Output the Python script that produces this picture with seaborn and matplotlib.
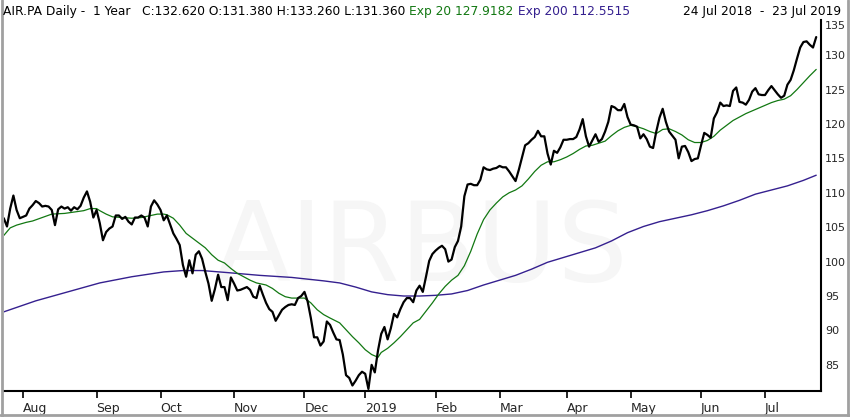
import numpy as np
import pandas as pd
import matplotlib
matplotlib.use('Agg')
import matplotlib.pyplot as plt
import seaborn as sns
from matplotlib.lines import Line2D
from matplotlib.transforms import ScaledTranslation

# Daily closes, one value per trading day (24 Jul 2018 - 23 Jul 2019)
close_jul = [106.3, 105.1, 107.7, 109.6, 107.5, 106.3]
close_aug = [106.5, 106.7, 107.7, 108.2, 108.8, 108.5, 108.0, 108.1, 108.0, 107.5,
             105.3, 107.6, 108.0, 107.7, 107.9, 107.4, 107.9, 107.6, 108.1, 109.3,
             110.2, 108.7, 106.4]
close_sep = [107.5, 105.6, 103.1, 104.3, 104.8, 105.1, 106.7, 106.7, 106.2, 106.5,
             105.8, 105.4, 106.4, 106.4, 106.7, 106.4, 105.1, 108.0, 108.9, 108.3]
close_oct = [107.5, 106.0, 106.7, 105.4, 104.1, 103.3, 102.4, 99.5, 97.8, 100.2,
             98.3, 101.0, 101.5, 100.4, 98.5, 96.8, 94.3, 96.0, 98.1, 96.3,
             96.3, 94.4, 97.7]
close_nov = [96.8, 95.8, 95.9, 96.1, 96.3, 95.9, 94.9, 94.7, 96.5, 95.2,
             94.0, 93.1, 92.7, 91.4, 92.2, 93.0, 93.4, 93.7, 93.8, 93.7,
             94.7, 95.0]
close_dec = [95.6, 94.2, 91.8, 89.0, 89.0, 87.8, 88.4, 91.3, 90.8, 89.7,
             88.7, 88.6, 86.5, 83.5, 83.1, 82.0, 82.7, 83.5, 84.0]
close_jan = [83.7, 81.5, 85.0, 83.9, 87.1, 89.5, 90.5, 88.7, 90.3, 92.4,
             91.9, 93.1, 94.1, 94.7, 94.7, 94.1, 95.8, 96.5, 95.6, 97.8,
             100.1, 101.1]
close_feb = [101.6, 102.0, 102.3, 101.8, 100.0, 100.3, 102.1, 103.0, 105.1, 109.5,
             111.2, 111.3, 111.1, 111.1, 111.9, 113.7, 113.4, 113.3, 113.5, 113.6]
close_mar = [113.9, 113.7, 113.7, 113.1, 112.4, 111.7, 113.3, 115.1, 116.9, 117.2,
             117.7, 118.1, 119.0, 118.2, 118.2, 115.7, 114.1, 116.1, 115.8, 116.6,
             117.7]
close_apr = [117.7, 117.8, 117.8, 118.1, 119.2, 120.7, 118.2, 116.7, 117.6, 118.5,
             117.4, 117.8, 118.9, 120.3, 122.6, 122.4, 122.0, 122.0, 122.9, 121.0]
close_may = [119.9, 119.8, 119.6, 117.9, 118.5, 117.8, 116.7, 116.5, 118.9, 120.9,
             122.2, 120.3, 118.9, 118.3, 117.7, 115.0, 116.7, 116.8, 115.9, 114.6,
             114.9, 115.0]
close_jun = [116.9, 118.7, 118.4, 118.0, 120.8, 121.7, 123.1, 122.6, 122.7, 122.6,
             124.8, 125.3, 123.2, 123.1, 122.8, 123.5, 124.7, 125.2, 124.3, 124.2]
close_jul19 = [124.2, 124.9, 125.5, 124.9, 124.3, 123.8, 124.1, 125.7, 126.4, 127.8,
               129.5, 131.1, 131.9, 132.0, 131.5, 131.1, 132.62]
close = (close_jul + close_aug + close_sep + close_oct + close_nov + close_dec +
         close_jan + close_feb + close_mar + close_apr + close_may + close_jun + close_jul19)

# Exp 20 read at sample trading days
ema20_days = [0, 2, 4, 7, 9, 12, 15, 19, 22, 25, 27, 29, 30, 32, 34, 37, 40, 43, 46, 48,
              50, 51, 53, 55, 57, 59, 61, 63, 65, 67, 69, 71, 73, 75, 77, 79, 82, 84, 86, 88,
              90, 92, 94, 96, 98, 100, 102, 105, 107, 109, 111, 113, 115, 117, 118, 120, 122, 124, 126, 128,
              130, 132, 134, 136, 138, 140, 142, 144, 146, 148, 150, 152, 154, 156, 158, 160, 162, 164, 166, 168,
              170, 172, 174, 176, 178, 180, 182, 184, 186, 188, 190, 192, 194, 196, 198, 200, 202, 204, 206, 208,
              210, 212, 214, 216, 218, 220, 222, 224, 226, 228, 230, 232, 234, 236, 238, 240, 242, 244, 246, 248,
              250, 252, 254]
ema20 = [103.8, 104.9, 105.3, 105.7, 105.9, 106.4, 106.9, 107.0, 107.2, 107.4, 107.7, 107.7, 107.4, 106.9, 106.5, 106.4, 106.3, 106.4, 106.7, 106.9,
         106.9, 106.8, 106.3, 105.3, 104.1, 103.4, 102.7, 102.0, 101.0, 100.2, 99.8, 99.0, 98.3, 97.8, 97.3, 96.9, 96.6, 96.1, 95.4, 94.9,
         94.7, 94.7, 94.7, 94.0, 93.0, 92.3, 91.8, 91.1, 90.1, 89.1, 88.2, 87.2, 86.5, 86.1, 86.8, 87.4, 88.2, 89.1, 90.1, 91.1,
         91.6, 92.8, 94.0, 95.3, 96.4, 97.3, 98.0, 99.4, 101.5, 104.0, 106.1, 107.5, 108.5, 109.4, 110.0, 110.4, 111.0, 112.0, 113.1, 114.0,
         114.5, 114.5, 114.8, 115.2, 115.7, 116.3, 116.8, 116.9, 117.2, 117.5, 118.3, 119.0, 119.5, 119.8, 119.6, 119.3, 118.9, 118.6, 119.2, 119.3,
         118.9, 118.4, 117.7, 117.3, 117.3, 117.6, 118.2, 119.1, 119.8, 120.5, 121.0, 121.5, 121.9, 122.3, 122.7, 123.1, 123.4, 123.6, 124.1, 125.0,
         126.0, 127.0, 127.92]

# Exp 200 read at sample trading days
ema200_days = [0, 10, 20, 30, 40, 50, 56, 62, 70, 80, 90, 100, 105, 110, 115, 120, 125, 130, 135, 140,
               145, 150, 155, 160, 165, 170, 175, 180, 185, 190, 195, 200, 205, 210, 215, 220, 225, 230, 235, 240,
               245, 250, 254]
ema200 = [92.7, 94.3, 95.6, 96.9, 97.8, 98.5, 98.7, 98.7, 98.4, 98.0, 97.7, 97.2, 96.9, 96.3, 95.6, 95.2, 95.0, 95.0, 95.1, 95.3,
          95.8, 96.6, 97.3, 98.0, 98.9, 99.9, 100.6, 101.3, 102.0, 103.0, 104.2, 105.1, 105.8, 106.3, 106.8, 107.4, 108.1, 108.9, 109.8, 110.4,
          111.0, 111.8, 112.55]

holidays = ['2018-12-25', '2018-12-26', '2019-01-01', '2019-04-19', '2019-04-22', '2019-05-01']
month_labels = ['Aug', 'Sep', 'Oct', 'Nov', 'Dec', '2019', 'Feb', 'Mar', 'Apr', 'May', 'Jun', 'Jul']
y_ticks = [85, 90, 95, 100, 105, 110, 115, 120, 125, 130, 135]

header_main = 'AIR.PA Daily -  1 Year   C:132.620 O:131.380 H:133.260 L:131.360 '
header_e20 = 'Exp 20 127.9182'
header_e200 = ' Exp 200 112.5515'
header_range = '24 Jul 2018  -  23 Jul 2019'

# trading calendar -> first trading day of each month
days = pd.bdate_range('2018-07-24', '2019-07-23')
days = days[~days.isin(pd.to_datetime(holidays))][:len(close)]
month_id = days.year * 12 + days.month
month_starts = [i for i in range(1, len(days)) if month_id[i] != month_id[i - 1]]

df = pd.DataFrame({'day': np.arange(len(close)), 'close': close})
df20 = pd.DataFrame({'day': ema20_days, 'ema': ema20})
df200 = pd.DataFrame({'day': ema200_days, 'ema': ema200})

sns.set_style('white')
plt.rcParams['font.family'] = ['DejaVu Sans']

W, H = 850, 417
fig = plt.figure(figsize=(W / 100, H / 100), dpi=100)
ax = fig.add_axes([3.8 / W, (H - 391) / H, (821 - 3.8) / W, (391 - 20) / H])

# faint watermark
ax.text(0.51, 0.38, 'AIRBUS', transform=ax.transAxes, fontsize=80, color='#f6f6f6',
        ha='center', va='center', zorder=0)

sns.lineplot(data=df200, x='day', y='ema', color='#35208f', linewidth=1.0, ax=ax)
sns.lineplot(data=df20, x='day', y='ema', color='#127812', linewidth=0.9, ax=ax)
sns.lineplot(data=df, x='day', y='close', color='black', linewidth=1.6, ax=ax)

ax.set_xlim(0, 255.5)
ax.set_ylim(81.2, 135.1)
ax.set_xlabel('')
ax.set_ylabel('')

for s in ['left', 'top']:
    ax.spines[s].set_visible(False)
for s in ['right', 'bottom']:
    ax.spines[s].set_color('black')
    ax.spines[s].set_linewidth(1.5)

ax.yaxis.tick_right()
ax.set_yticks(y_ticks)
ax.set_yticklabels([str(v) for v in y_ticks])
ax.tick_params(axis='y', length=0, pad=3, labelsize=8)
# top label sits just below the frame top, as in the original
top_lbl = ax.get_yticklabels()[-1]
top_lbl.set_transform(top_lbl.get_transform() + ScaledTranslation(0, -4 / 100, fig.dpi_scale_trans))
ax.set_xticks(month_starts)
ax.set_xticklabels(month_labels[:len(month_starts)])
ax.tick_params(axis='x', length=5, width=1.4, direction='out', pad=3, labelsize=9, bottom=True)
for lbl in ax.get_xticklabels():
    lbl.set_ha('left')

# header line, segments placed one after another
fig.canvas.draw()
r = fig.canvas.get_renderer()
y_head = 1 - 11 / H
hs = 8.8
t = fig.text(3 / W, y_head, header_main, fontsize=hs, color='black', va='center')
x_next = t.get_window_extent(r).x1
t = fig.text(x_next / W, y_head, header_e20, fontsize=hs, color='#127812', va='center')
x_next = t.get_window_extent(r).x1
fig.text(x_next / W, y_head, header_e200, fontsize=hs, color='#35208f', va='center')
fig.text(841 / W, y_head, header_range, fontsize=hs, color='black', va='center', ha='right')

# window frame
frame = '#a0a0a0'
fig.add_artist(Line2D([1.5 / W, 1.5 / W], [0, 1], transform=fig.transFigure, color=frame, lw=2))
fig.add_artist(Line2D([0, 1], [2.5 / H, 2.5 / H], transform=fig.transFigure, color=frame, lw=2))
fig.add_artist(Line2D([1 - 2.5 / W, 1 - 2.5 / W], [0, 1], transform=fig.transFigure, color=frame, lw=2))

fig.savefig('out.png', dpi=100, facecolor='white')
